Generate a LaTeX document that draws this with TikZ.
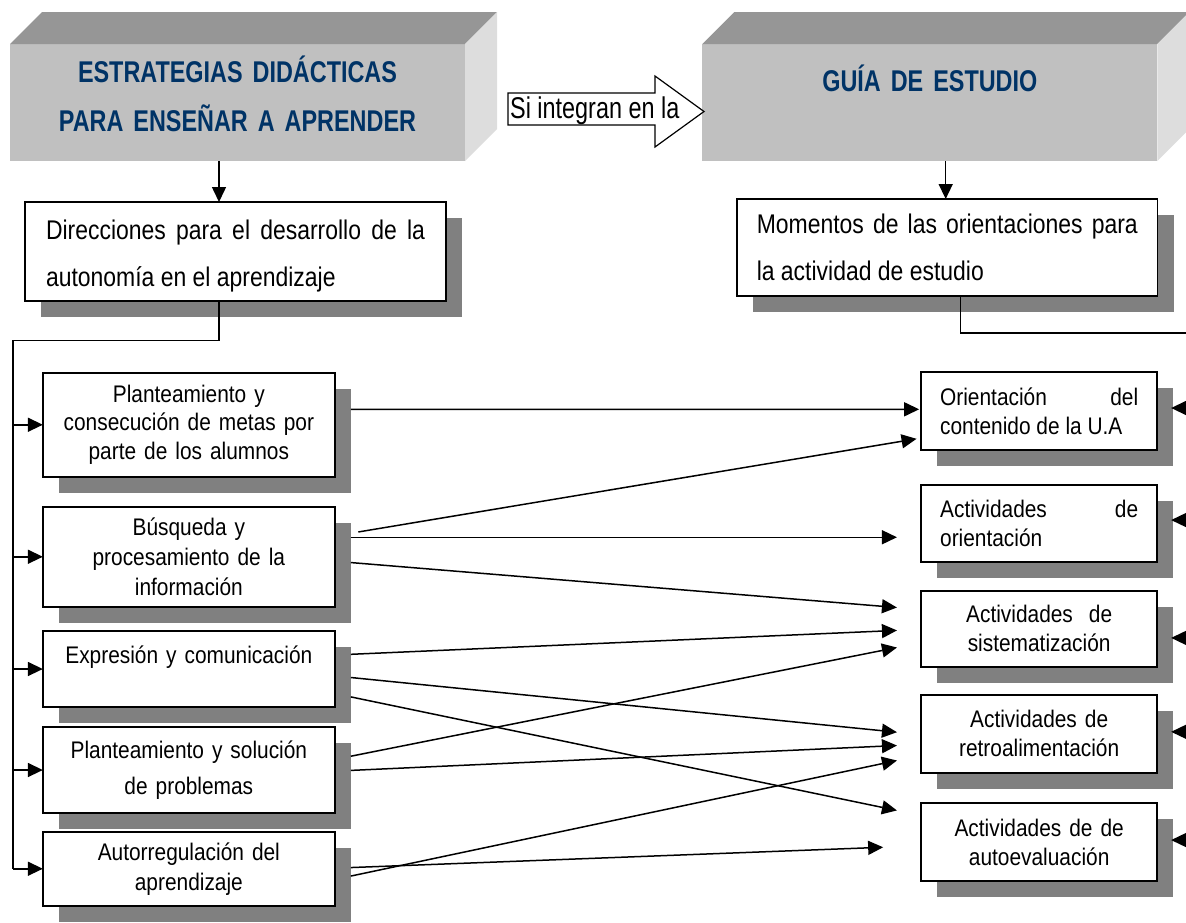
\documentclass[tikz,border=0pt]{standalone}
\usepackage{fontspec}
\setmainfont{Liberation Sans}
\newfontfamily\titlefont[FakeStretch=0.78]{Liberation Sans}
\newfontfamily\boxfont[FakeStretch=0.85]{Liberation Sans}
\newfontfamily\smallfont[FakeStretch=0.87]{Liberation Sans}
\usetikzlibrary{positioning}
\usetikzlibrary{shadows}
\usetikzlibrary{arrows.meta}
\definecolor{facegray}{HTML}{C0C0C0}
\definecolor{topgray}{HTML}{969696}
\definecolor{sidegray}{HTML}{DDDDDD}
\definecolor{shadowgray}{HTML}{808080}
\definecolor{titleblue}{HTML}{003366}
\setlength{\parindent}{0pt}

\begin{document}
\begin{tikzpicture}
		[x=1pt, y=-1pt,
		face/.style={fill=facegray, minimum width=455pt, minimum height=117pt, inner sep=0pt, outer sep=0pt},
		titletext/.style={text=titleblue, align=center, inner sep=0pt, text width=440pt, font=\titlefont\bfseries\fontsize{30}{49}\selectfont},
		castshadow/.style={drop shadow={opacity=1, fill=shadowgray, shadow xshift=16pt, shadow yshift=-16pt}},
		bigbox/.style={castshadow, draw, line width=1.8pt, fill=white, outer sep=0pt, inner ysep=0pt, align=justify, font=\boxfont\fontsize{27}{47}\selectfont},
		box/.style={castshadow, draw, line width=1.8pt, fill=white, outer sep=0pt, inner sep=0pt, align=center, font=\smallfont\fontsize{24}{29}\selectfont},
		lbox/.style={box, text width=270pt, minimum width=292pt},
		rbox/.style={box, text width=198pt, minimum width=236pt},
		link/.style={line width=1.5pt, -{Triangle[length=15pt, width=14pt]}},
		wire/.style={line width=1.5pt}]
		\useasboundingbox (0,0) rectangle (1186,922);

		% the two blocks on top
		\node[face] (estr) at (237.5,102.5) {};
		\node[face] (guia) at (929.8,102.5) {};
		\fill[topgray] (estr.north west) -- ++(32,-32) -- ([shift={(32,-32)}]estr.north east) -- (estr.north east) -- cycle;
		\fill[sidegray] (estr.north east) -- ++(32,-32) -- ([shift={(32,-32)}]estr.south east) -- (estr.south east) -- cycle;
		\fill[topgray] (guia.north west) -- ++(32,-32) -- ([shift={(32,-32)}]guia.north east) -- (guia.north east) -- cycle;
		\fill[sidegray] (guia.north east) -- ++(32,-32) -- ([shift={(32,-32)}]guia.south east) -- (guia.south east) -- cycle;
		\node[titletext] (estrt) at ([yshift=8.5pt]estr.center) {ESTRATEGIAS DIDÁCTICAS\\PARA ENSEÑAR A APRENDER};
		\node[titletext] (guiat) at (guia.center) {GUÍA DE ESTUDIO\\\mbox{}};

		\draw[line width=1.2pt, fill=white] (508,93) -- (655,93) -- (655,76) -- (704,111.5) -- (655,147) -- (655,125) -- (508,125) -- cycle;
		\node[anchor=base west, inner sep=0pt, font=\titlefont\fontsize{30}{30}\selectfont] (integ) at (510,118.3) {Si integran en la};

		\node[bigbox, text width=379pt, minimum width=421pt, minimum height=99pt] (dir) at (235.5,251.5) {\rule{0pt}{28.3pt}Direcciones para el desarrollo de la\linebreak autonomía en el aprendizaje};
		\node[bigbox, text width=381pt, minimum width=420.5pt, minimum height=97pt] (mom) at (947.25,247.5) {Momentos de las orientaciones para\linebreak la actividad de estudio};

		% left column
		\node[lbox, minimum height=104pt, font=\smallfont\fontsize{24}{28.5}\selectfont] (b1) at (188.85,424.75) {Planteamiento y\\consecución de metas por\\parte de los alumnos};
		\node[lbox, minimum height=100pt, font=\smallfont\fontsize{24}{30}\selectfont, below=30pt of b1] (b2) {Búsqueda y\\procesamiento de la\\información};
		\node[lbox, minimum height=75.5pt, below=24.5pt of b2] (b3) {Expresión y comunicación\\\mbox{}};
		\node[lbox, minimum height=86.5pt, font=\smallfont\fontsize{24}{36}\selectfont, below=20pt of b3] (b4) {Planteamiento y solución\\de problemas};
		\node[lbox, minimum height=74pt, font=\smallfont\fontsize{24}{30}\selectfont, below=18.5pt of b4] (b5) {Autorregulación del\\aprendizaje};

		% right column
		\node[rbox, minimum height=78pt, align=justify] (r1) at (1039.15,411) {Orientación del\linebreak contenido de la U.A};
		\node[rbox, minimum height=77.3pt, align=justify, below=35pt of r1] (r2) {Actividades de\linebreak orientación};
		\node[rbox, minimum height=76.2pt, below=28.5pt of r2] (r3) {Actividades\ \ de\\sistematización};
		\node[rbox, minimum height=77.6pt, below=28pt of r3] (r4) {Actividades de\\retroalimentación};
		\node[rbox, minimum height=77.5pt, below=30.7pt of r4] (r5) {Actividades de de\\autoevaluación};

		\coordinate (sl) at (219,0);
		\coordinate (sr) at (945.7,0);
		\draw[link] (estr.south -| sl) -- (dir.north -| sl);
		\draw[link] (guia.south -| sr) -- (mom.north -| sr);

		% branches on the left
		\coordinate (bus) at (13,340.6);
		\draw[wire] (dir.south -| sl) -- (sl |- bus) -- (bus) -- (bus |- b5.west);
		\foreach \b in {b1,b2,b3,b4,b5}
			\draw[link] (bus |- \b.west) -- (\b.west);

		% branches on the right
		\coordinate (mr) at (960.6,333);
		\coordinate (rbus) at (1192,333);
		\draw[wire] (mom.south -| mr) -- (mr) -- (rbus) -- (rbus |- r5.east);
		\foreach \r/\dy in {r1/-3, r2/-3.6, r3/9, r4/-2, r5/-2} {
			\coordinate (t) at ([shift={(14,\dy)}]\r.east);
			\draw[link] (rbus |- t) -- (t);
		}

		\draw[link] ([shift={(16,-15.4)}]b1.east) to ([shift={(-2,-1.7)}]r1.west);
		\draw[link] ([shift={(23.5,-24.8)}]b2.east) to ([shift={(-4.6,27.8)}]r1.west);
		\draw[link] ([shift={(16,-19.5)}]b2.east) to ([shift={(-24.2,13.6)}]r2.west);
		\draw[link] ([shift={(16,5.8)}]b2.east) to ([shift={(-24.2,-21.4)}]r3.west);
		\draw[link] ([shift={(16,-14.7)}]b3.east) to ([shift={(-24.2,1.5)}]r3.west);
		\draw[link] ([shift={(16,-13.8)}]b4.east) to ([shift={(-24.2,18.6)}]r3.west);
		\draw[link] ([shift={(16,8.5)}]b3.east) to ([shift={(-24.2,-1.6)}]r4.west);
		\draw[link] ([shift={(16,27.9)}]b3.east) to ([shift={(-24.2,-31.6)}]r5.west);
		\draw[link] ([shift={(16,0.4)}]b4.east) to ([shift={(-24.2,11.7)}]r4.west);
		\draw[link] ([shift={(16,7.3)}]b5.east) to ([shift={(-24.2,26.7)}]r4.west);
		\draw[link] ([shift={(16,-1.2)}]b5.east) to ([shift={(-38,5.2)}]r5.west);
	\end{tikzpicture}
\end{document}
